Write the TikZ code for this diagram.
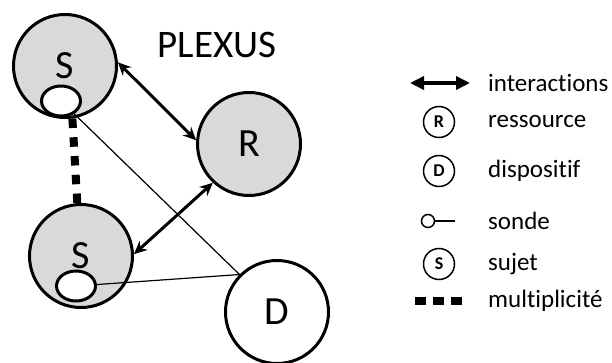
\documentclass[tikz,border=0pt]{standalone}
\usepackage{fontspec}
\setmainfont{Carlito}[Ligatures={NoCommon,NoRare,NoContextual},RawFeature={-liga;-dlig;-clig}]
\usetikzlibrary{arrows.meta,shapes.geometric}
\definecolor{plexgray}{RGB}{217,217,217}
\begin{document}
\begin{tikzpicture}[x=1pt,y=-1pt,
  bigcircle/.style={circle,draw,line width=3pt,minimum size=103pt,inner sep=0pt,font=\fontsize{40}{40}\selectfont},
  probe/.style={ellipse,draw,fill=white,line width=3pt,minimum width=39pt,minimum height=30pt,inner sep=0pt},
  interact/.style={{Stealth[length=13pt,width=12pt]}-{Stealth[length=13pt,width=12pt]},line width=3pt},
  multi/.style={line width=8pt,dash pattern=on 9.5pt off 9.3pt},
  link/.style={line width=1.2pt},
  legcircle/.style={circle,draw,line width=1.5pt,minimum size=31pt,inner sep=0pt,font=\bfseries\fontsize{18}{18}\selectfont},
  legtext/.style={anchor=west,inner sep=0pt,font=\fontsize{25}{25}\selectfont}]
\useasboundingbox (0,0) rectangle (612,363);
% the plexus
\node[bigcircle,fill=plexgray] (s1) at (65,66) {S};
\node[bigcircle,fill=plexgray] (s2) at (81,256) {S};
\node[bigcircle,fill=plexgray] (r) at (249,144) {R};
\node[bigcircle,fill=white] (d) at (277,312) {D};
\node[probe] (p1) at (61,101) {};
\node[probe] (p2) at (76,286) {};
\node[font=\fontsize{39}{39}\selectfont] (plexus) at (217,45) {PLEXUS};
\draw[interact] (s1.4) -- (r.176);
\draw[interact] (s2.2) -- (r.227);
\draw[multi] (s1.-82) -- (s2.94);
\draw[link] (p1) -- (d.135);
\draw[link] (p2) -- (d.135);
% legend
\coordinate (la) at (410,83);
\coordinate (lb) at (470,83);
\draw[{Triangle[length=14pt,width=13pt]}-{Triangle[length=14pt,width=13pt]},line width=4pt] (la) -- (lb);
\node[legtext] (tint) at (488,83) {interactions};
\node[legcircle] (lr) at (439,122) {R};
\node[legtext] (tres) at (488,122) {ressource};
\node[legcircle] (ld) at (439,171) {D};
\node[legtext] (tdis) at (488,171) {dispositif};
\node[circle,draw,line width=1.5pt,minimum size=13pt,inner sep=0pt] (lp) at (428,221) {};
\coordinate (lpe) at (455,221);
\draw[line width=1.5pt] (lp) -- (lpe);
\node[legtext] (tson) at (488,221) {sonde};
\node[legcircle] (ls) at (439,264) {S};
\node[legtext] (tsuj) at (488,264) {sujet};
\coordinate (lm1) at (415,301);
\coordinate (lm2) at (462,301);
\draw[line width=8pt,dash pattern=on 11pt off 7pt] (lm1) -- (lm2);
\node[legtext] (tmul) at (488,301) {multiplicité};
\end{tikzpicture}
\end{document}
